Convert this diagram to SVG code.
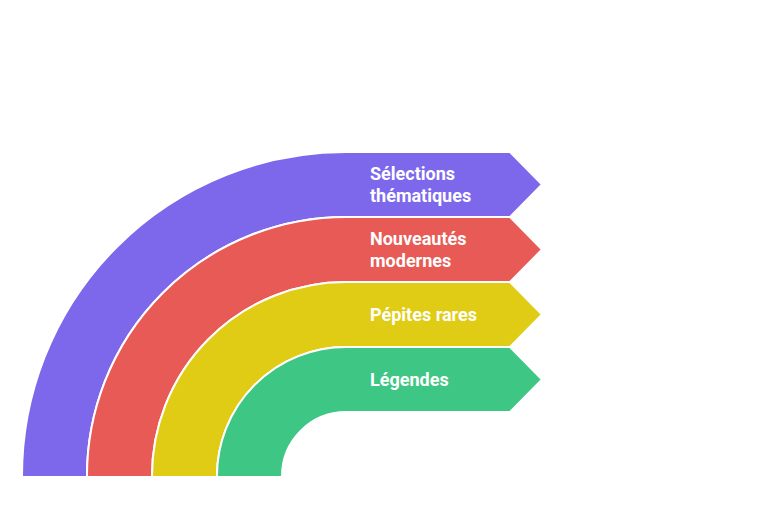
<svg xmlns="http://www.w3.org/2000/svg" width="770" height="521" viewBox="0 0 770 521">
<style>
.band{stroke:#fff;stroke-width:2;stroke-linejoin:miter}
.lbl{font-family:Roboto,"Liberation Sans",sans-serif;font-weight:700;font-size:18px;fill:#fff}
</style>
<rect width="770" height="521" fill="#fff"/>
<g id="selections">
<path class="band" fill="#7d68ec" d="M22 477A324 324 0 0 1 346 152H510L542 184.500L510 217H346A259 259 0 0 0 87 477Z"/>
<text class="lbl" x="370" y="180">Sélections</text>
<text class="lbl" x="370" y="201.500">thématiques</text>
</g>
<g id="nouveautes">
<path class="band" fill="#e85a55" d="M87 477A259 259 0 0 1 346 217H510L542 249.500L510 282H346A194 194 0 0 0 152 477Z"/>
<text class="lbl" x="370" y="245">Nouveautés</text>
<text class="lbl" x="370" y="266.500">modernes</text>
</g>
<g id="pepites">
<path class="band" fill="#e0cc15" d="M152 477A194 194 0 0 1 346 282H510L542 314.500L510 347H346A129 129 0 0 0 217 477Z"/>
<text class="lbl" x="370" y="320.500">Pépites rares</text>
</g>
<g id="legendes">
<path class="band" fill="#3ec685" d="M217 477A129 129 0 0 1 346 347H510L542 379.500L510 412H346A64 64 0 0 0 282 477Z"/>
<text class="lbl" x="370" y="385.500">Légendes</text>
</g>
</svg>
